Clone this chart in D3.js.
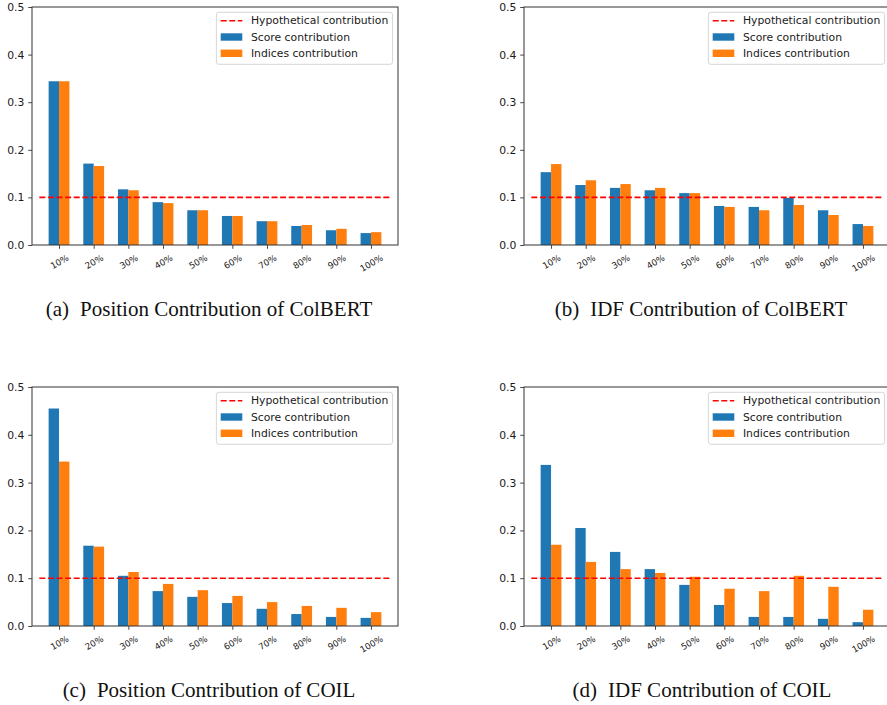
<!DOCTYPE html>
<html><head><meta charset="utf-8">
<script src="https://cdn.jsdelivr.net/npm/d3@7"></script>
<style>body{margin:0;background:#fff}svg{display:block}</style>
</head><body><svg id="c" width="887" height="705"></svg>
<script>
// ---- data ----
const categories = ["10%","20%","30%","40%","50%","60%","70%","80%","90%","100%"];
const yTicks = [0.0, 0.1, 0.2, 0.3, 0.4, 0.5];
const hypotheticalValue = 0.1;
const legendLabels = ["Hypothetical contribution", "Score contribution", "Indices contribution"];

const posColbertScore   = [0.344, 0.171, 0.117, 0.090, 0.073, 0.061, 0.050, 0.040, 0.031, 0.025];
const posColbertIndices = [0.344, 0.166, 0.115, 0.088, 0.073, 0.061, 0.050, 0.042, 0.034, 0.027];

const idfColbertScore   = [0.153, 0.126, 0.120, 0.115, 0.109, 0.082, 0.080, 0.099, 0.073, 0.044];
const idfColbertIndices = [0.170, 0.136, 0.128, 0.120, 0.109, 0.080, 0.073, 0.084, 0.063, 0.040];

const posCoilScore   = [0.455, 0.168, 0.105, 0.073, 0.061, 0.048, 0.036, 0.025, 0.019, 0.017];
const posCoilIndices = [0.344, 0.166, 0.113, 0.088, 0.075, 0.063, 0.050, 0.042, 0.038, 0.029];

const idfCoilScore   = [0.337, 0.205, 0.155, 0.119, 0.086, 0.044, 0.019, 0.019, 0.015, 0.008];
const idfCoilIndices = [0.170, 0.134, 0.119, 0.111, 0.103, 0.078, 0.073, 0.105, 0.082, 0.034];

const captionLabels = ["(a)", "(b)", "(c)", "(d)"];
const captionTexts = ["Position Contribution of ColBERT", "IDF Contribution of ColBERT",
                      "Position Contribution of COIL", "IDF Contribution of COIL"];

// ---- layout / style ----
const colors = { score: "#1f77b4", indices: "#ff7f0e", hypo: "#ff0000" };
const panels = [
  { score: posColbertScore, indices: posColbertIndices, x0: 32,  x1: 398, y0: 7,   y1: 245, capY: 316, capX: 209 },
  { score: idfColbertScore, indices: idfColbertIndices, x0: 524, x1: 890, y0: 7,   y1: 245, capY: 316, capX: 701 },
  { score: posCoilScore,    indices: posCoilIndices,    x0: 32,  x1: 398, y0: 387, y1: 626, capY: 697, capX: 209 },
  { score: idfCoilScore,    indices: idfCoilIndices,    x0: 524, x1: 890, y0: 387, y1: 626, capY: 697, capX: 702 }
];
const barW = 0.3;
const fs = 10.8;          // main tick/legend font size (px)
const xfs = 8.7;          // x tick font size
const tickLen = 3.8, tickPad = 3.8;
const sans = "DejaVu Sans, sans-serif";

const svg = d3.select("#c");
svg.append("rect").attr("width", 887).attr("height", 705).attr("fill", "#fff");

panels.forEach((p, pi) => {
  const g = svg.append("g");
  const idx = d3.range(categories.length);
  const xlo = -barW, xhi = categories.length - 1 + barW;
  const m = 0.05 * (xhi - xlo);
  const x = d3.scaleLinear().domain([xlo - m, xhi + m]).range([p.x0, p.x1]);
  const y = d3.scaleLinear().domain([0, 0.5]).range([p.y1, p.y0]);

  // bars
  g.selectAll(".bs").data(idx).join("rect")
    .attr("class", "bs")
    .attr("x", i => x(i - barW)).attr("width", i => x(i) - x(i - barW))
    .attr("y", i => y(p.score[i])).attr("height", i => y(0) - y(p.score[i]))
    .attr("fill", colors.score);
  g.selectAll(".bi").data(idx).join("rect")
    .attr("class", "bi")
    .attr("x", i => x(i)).attr("width", i => x(i + barW) - x(i))
    .attr("y", i => y(p.indices[i])).attr("height", i => y(0) - y(p.indices[i]))
    .attr("fill", colors.indices);

  // hypothetical line (axhline xmin=0.02, xmax=0.98)
  const [r0, r1] = x.range();
  g.append("line")
    .attr("x1", r0 + 0.02 * (r1 - r0)).attr("x2", r0 + 0.98 * (r1 - r0))
    .attr("y1", y(hypotheticalValue)).attr("y2", y(hypotheticalValue))
    .attr("stroke", colors.hypo).attr("stroke-width", 1.6)
    .attr("stroke-dasharray", "6,2.6");

  // y axis
  const ya = g.append("g").attr("transform", `translate(${p.x0},0)`)
    .call(d3.axisLeft(y).tickValues(yTicks).tickFormat(d3.format(".1f"))
      .tickSize(tickLen).tickPadding(tickPad));
  ya.select(".domain").remove();
  ya.selectAll("line").attr("stroke", "#333").attr("stroke-width", 0.9);
  ya.selectAll("text").attr("font-family", sans).attr("font-size", fs).attr("fill", "#1a1a1a");

  // x axis ticks
  const xa = g.append("g").attr("transform", `translate(0,${p.y1})`)
    .call(d3.axisBottom(x).tickValues(idx).tickFormat(i => categories[i])
      .tickSize(tickLen).tickPadding(tickPad));
  xa.select(".domain").remove();
  xa.selectAll("line").attr("stroke", "#333").attr("stroke-width", 0.9);
  xa.selectAll(".tick").each(function(i) {
    const tk = d3.select(this);
    const t = tk.select("text")
      .attr("font-family", sans).attr("font-size", xfs).attr("fill", "#1a1a1a")
      .attr("y", null).attr("dy", null).attr("x", 0)
      .attr("text-anchor", "middle").attr("dominant-baseline", "central");
    const w = t.node().getComputedTextLength();
    const h = xfs * 1.17;
    const a = Math.PI / 6;
    const bh = w * Math.sin(a) + h * Math.cos(a);
    const cy = tickLen + tickPad + bh / 2;
    t.attr("transform", `translate(0,${cy}) rotate(-30)`);
  });

  // spines
  g.append("rect").attr("x", p.x0).attr("y", p.y0)
    .attr("width", p.x1 - p.x0).attr("height", p.y1 - p.y0)
    .attr("fill", "none").attr("stroke", "#333").attr("stroke-width", 1);

  // legend
  const lg = g.append("g");
  const tmp = lg.append("text").attr("font-family", sans).attr("font-size", fs).text(legendLabels[0]);
  const maxW = d3.max(legendLabels, s => { tmp.text(s); return tmp.node().getComputedTextLength(); });
  tmp.remove();
  const bp = 0.4 * fs, hl = 2 * fs, htp = 0.8 * fs;
  const boxW = bp + hl + htp + maxW + bp;
  const rowH = 16.3;
  const boxH = 52;
  const bx = p.x1 - 5.4 - boxW, by = p.y0 + 5.3;
  lg.append("rect").attr("x", bx).attr("y", by).attr("width", boxW).attr("height", boxH)
    .attr("rx", 2.5).attr("fill", "#fff").attr("fill-opacity", 0.8)
    .attr("stroke", "#d6d6d6").attr("stroke-width", 1);
  legendLabels.forEach((s, k) => {
    const cy = by + 8.4 + k * rowH;
    const hx = bx + bp;
    if (k === 0) {
      lg.append("line").attr("x1", hx).attr("x2", hx + hl).attr("y1", cy).attr("y2", cy)
        .attr("stroke", colors.hypo).attr("stroke-width", 1.6).attr("stroke-dasharray", "6,2.6");
    } else {
      lg.append("rect").attr("x", hx).attr("y", cy - 3.7).attr("width", hl).attr("height", 7.4)
        .attr("fill", k === 1 ? colors.score : colors.indices);
    }
    lg.append("text").attr("x", hx + hl + htp).attr("y", cy)
      .attr("dominant-baseline", "central")
      .attr("font-family", sans).attr("font-size", fs).attr("fill", "#1a1a1a").text(s);
  });

  // caption
  const cap = svg.append("text").attr("x", p.capX).attr("y", p.capY)
    .attr("text-anchor", "middle")
    .attr("font-family", "Liberation Serif, DejaVu Serif, serif").attr("font-size", 21).attr("fill", "#111");
  cap.append("tspan").text(captionLabels[pi]);
  cap.append("tspan").attr("dx", 11).text(captionTexts[pi]);
});
</script>
</body></html>
